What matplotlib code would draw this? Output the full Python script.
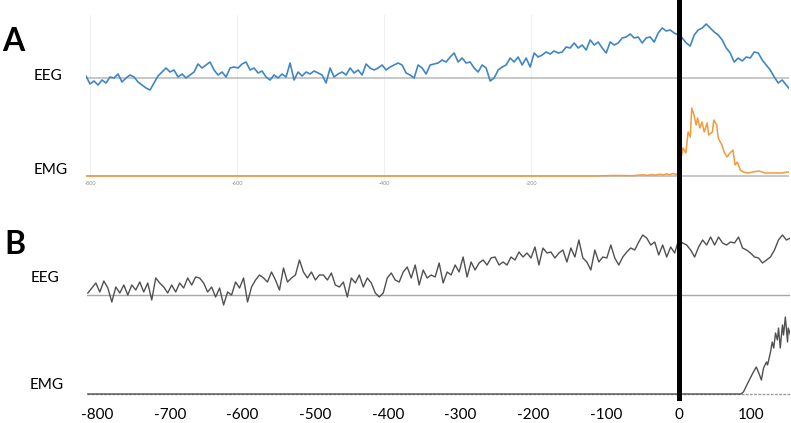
import numpy as np
import matplotlib
matplotlib.use("Agg")
import matplotlib.pyplot as plt

plt.rcParams['font.family'] = ['Lato', 'DejaVu Sans']
plt.rcParams['axes.unicode_minus'] = False

W, H = 791, 423

# ---- panel A (time in ms, amplitudes in arbitrary units, baseline = 0) ----
A_T_RANGE = (-806, 152)
EEG_A = [
    2, -6, -3, -7, -2, -5, 1, 0, 4, -4, 0, 3, 1, -4, -7, -10, -12, -5, 2, 6,
    10, 6, 8, 1, 4, 0, 3, 6, 14, 10, 13, 16, 8, 3, 6, 1, 10, 11, 10, 14,
    16, 8, 10, 5, 7, 1, -2, 3, 0, 4, 1, 15, -2, 6, 2, 6, 4, 7, 5,
    3, -5, 10, 1, 4, 6, 3, 10, 5, 8, 3, 14, 10, 8, 10, 13, 8, 11, 13, 15,
    13, 5, 3, 0, 13, 10, 4, 13, 14, 15, 18, 16, 21, 25, 16, 20, 15, 16, 10, 6,
    13, 10, -3, 0, 8, 11, 13, 20, 16, 21, 13, 20, 11, 25, 21, 23, 26, 24, 27, 25,
    26, 31, 30, 35, 30, 33, 28, 38, 33, 36, 30, 25, 36, 33, 35, 40, 41, 44, 40, 41,
    35, 40, 41, 36, 45, 50, 47, 48, 45, 43, 40, 35, 32, 43, 48, 50, 54, 50, 46, 43,
    38, 30, 25, 16, 20, 17, 21, 20, 26, 25, 18, 13, 8, 1, -5, -2, -7, -12,
]
EMG_A_T = [-806, -120, -86, -63, -48, -42, -36, -32, -25, -21, -16, -12, -8, -3, 1,
           3, 6, 10, 13, 16, 18, 21, 24, 26, 29, 32, 35, 39, 41, 46, 48, 52, 54,
           59, 62, 66, 70, 74, 77, 80, 84, 88, 95, 101, 109, 118, 129, 141, 148, 150]
EMG_A = [0, 0, 0.5, 0.3, 1.2, 0.6, 1.5, 0.8, 1.8, 1.0, 2.2, 1.2, 2.5, 1.5, 3,
         16, 28, 23, 44, 39, 68, 61, 51, 58, 48, 54, 44, 53, 41, 44, 56, 51, 38,
         31, 24, 19, 23, 26, 11, 14, 6, 4, 3, 4, 5, 3, 3, 3, 4, 4]
A_TICKS = [-800, -600, -400, -200, 0]

# ---- panel B ----
B_T_RANGE = (-813, 154)
EEG_B = [
    2, 7, 12, 3, 14, 7, -7, 8, 2, 10, 0, 10, 5, 13, 3, 12, -5, 17, 12, 8,
    2, 10, 3, 12, 7, 17, 10, 18, 17, 12, 3, 8, -2, 7, -10, 3, 0, 13, 7, 17,
    -7, 8, 15, 20, 17, 13, 23, 15, 5, 27, 13, 17, 20, 35, 23, 17, 23, 15, 20,
    20, 15, 22, 10, 8, 13, -2, 17, 12, 20, 8, 17, 12, 2, -2, 2, 17, 22, 15, 13,
    23, 28, 17, 30, 10, 25, 17, 20, 18, 32, 12, 23, 20, 30, 23, 38, 18, 33, 25, 32,
    35, 30, 37, 38, 30, 33, 30, 38, 35, 43, 38, 42, 37, 48, 30, 47, 42, 43, 37, 42,
    45, 33, 47, 38, 55, 37, 33, 25, 45, 33, 38, 37, 50, 37, 30, 38, 43, 47, 45, 53,
    60, 57, 50, 53, 40, 50, 38, 48, 42, 55, 52, 50, 45, 38, 48, 55, 50, 58, 50, 58,
    52, 50, 53, 52, 58, 47, 45, 42, 38, 37, 32, 35, 38, 45, 55, 60, 55, 57,
]
EMG_B_T = [-813, 86, 89.5, 96, 103, 107, 111.5, 114, 117, 121, 122.5, 126.6, 129,
           131, 133.5, 136, 137.6, 140, 143, 144.5, 147, 150, 151, 154]
EMG_B = [0, 0, 2.3, 12, 22, 27, 19, 14, 26, 32, 29, 42, 52,
         46, 61, 54, 66, 46, 69, 59, 77, 52, 66, 59]
B_TICKS = [-800, -700, -600, -500, -400, -300, -200, -100, 0, 100]

BLUE = '#3f86c6'
ORANGE = '#f39a3c'
TRACE_GRAY = '#505050'
BASE_GRAY = '#bdbdbd'


def px_axes(fig, x0, y0, x1, y1):
    return fig.add_axes([x0 / W, 1 - y1 / H, (x1 - x0) / W, (y1 - y0) / H])


fig = plt.figure(figsize=(W / 100, H / 100), dpi=100)

# panel A
axA = px_axes(fig, 86, 15, 789, 178)
axA.set_xlim(-806, 150.3)
axA.set_ylim(0, 163)
eeg_a_off, emg_a_off = 100, 2
tA = np.linspace(*A_T_RANGE, len(EEG_A))
for t in A_TICKS:
    axA.axvline(t, color='#f0f0f0', lw=0.8, zorder=0)
axA.axhline(eeg_a_off, color=BASE_GRAY, lw=1.2, zorder=1)
axA.axhline(emg_a_off, color=BASE_GRAY, lw=1.2, zorder=1)
axA.plot(tA, np.array(EEG_A) + eeg_a_off, color=BLUE, lw=1.2, zorder=2)
axA.plot(EMG_A_T, np.array(EMG_A) + emg_a_off, color=ORANGE, lw=1.1, zorder=2)
axA.set_xticks(A_TICKS)
axA.set_xticklabels([str(t) for t in A_TICKS])
axA.tick_params(axis='x', length=0, labelsize=4, labelcolor='#8c8c8c', pad=2)
axA.set_yticks([])
for s in axA.spines.values():
    s.set_visible(False)
axA.patch.set_alpha(0)

# panel B
axB = px_axes(fig, 87, 225, 790, 398)
axB.set_xlim(-814.2, 153.4)
axB.set_ylim(0, 173)
eeg_b_off, emg_b_off = 103, 4
tB = np.linspace(*B_T_RANGE, len(EEG_B))
axB.axhline(eeg_b_off, color='#a8a8a8', lw=1.0, zorder=1)
axB.axhline(emg_b_off, color='#9a9a9a', lw=1.0, ls=(0, (2, 1)), zorder=1)
axB.plot(tB, np.array(EEG_B) + eeg_b_off, color=TRACE_GRAY, lw=1.0, zorder=2)
axB.plot(EMG_B_T, np.array(EMG_B) + emg_b_off, color=TRACE_GRAY, lw=1.0, zorder=2)
axB.set_xticks(B_TICKS)
axB.set_xticklabels([str(t) for t in B_TICKS])
axB.tick_params(axis='x', length=0, labelsize=11, pad=7)
axB.set_yticks([])
for s in axB.spines.values():
    s.set_visible(False)
axB.patch.set_alpha(0)

# stimulus onset line, from the top down to panel B's baseline
axO = fig.add_axes([0, 0, 1, 1], zorder=5)
x0, x1 = axA.get_xlim()
posA = axA.get_position()
scale = (x1 - x0) / posA.width
axO.set_xlim(x0 - posA.x0 * scale, x0 + (1 - posA.x0) * scale)
axO.set_ylim(0, 1)
axO.axvline(0, ymin=axB.get_position().y0, ymax=1, color='black', lw=3.6)
axO.axis('off')

# panel letters and channel names
fig.text(13.5 / W, 1 - 41.5 / H, 'A', ha='center', va='center', fontsize=23, weight='bold')
fig.text(14.5 / W, 1 - 245 / H, 'B', ha='center', va='center', fontsize=23, weight='bold')
for x, y, s in [(34, 76, 'EEG'), (34, 170.5, 'EMG'), (31, 277.5, 'EEG'), (30, 384.5, 'EMG')]:
    fig.text(x / W, 1 - y / H, s, ha='left', va='center', fontsize=11)

fig.savefig('out.png', dpi=100)
